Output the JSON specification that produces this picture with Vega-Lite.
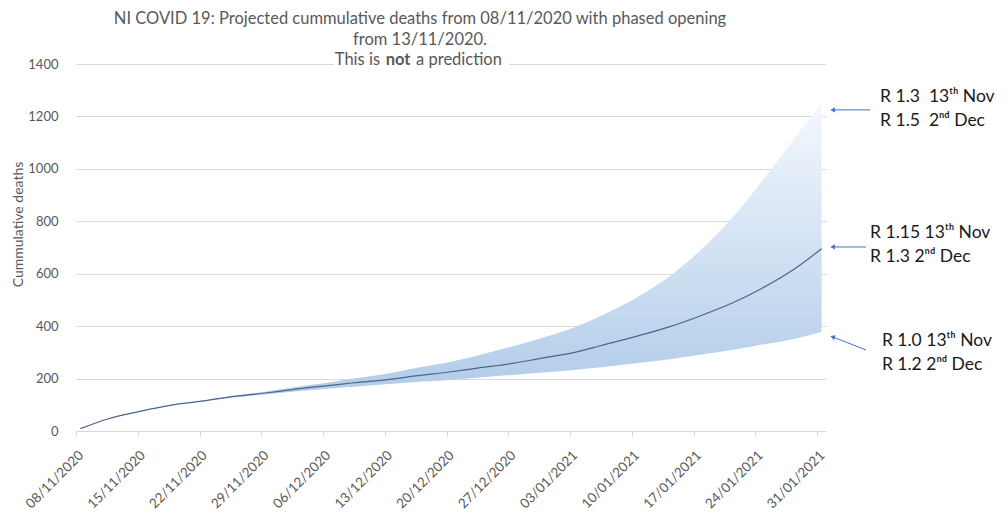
{
  "$schema": "https://vega.github.io/schema/vega-lite/v6.json",
  "width": 750,
  "height": 367,
  "autosize": "none",
  "padding": {"left": 76, "top": 64, "right": 182, "bottom": 82},
  "background": "white",
  "config": {
    "view": {"stroke": null},
    "font": "Lato",
    "axis": {"labelFont": "Lato", "titleFont": "Lato", "labelColor": "#595959", "titleColor": "#595959", "labelFontSize": 13, "titleFontSize": 14, "titleFontWeight": "normal"}
  },
  "title": {
    "text": ["NI COVID 19: Projected cummulative deaths from 08/11/2020 with phased opening", "from 13/11/2020."],
    "anchor": "middle",
    "frame": "group",
    "dx": -31,
    "offset": 3,
    "fontSize": 16.5,
    "font": "Lato",
    "fontWeight": "normal",
    "color": "#595959",
    "lineHeight": 21
  },
  "datasets": {
    "proj": [
      {"date": "2020-11-08T12:00:00", "lo": 9, "mid": 9, "hi": 9},
      {"date": "2020-11-11T12:00:00", "lo": 45, "mid": 45, "hi": 45},
      {"date": "2020-11-15T12:00:00", "lo": 77, "mid": 77, "hi": 77},
      {"date": "2020-11-18T12:00:00", "lo": 97, "mid": 97, "hi": 97},
      {"date": "2020-11-22T12:00:00", "lo": 114, "mid": 115, "hi": 117},
      {"date": "2020-11-25T12:00:00", "lo": 127, "mid": 130, "hi": 133},
      {"date": "2020-11-29T12:00:00", "lo": 140, "mid": 145, "hi": 150},
      {"date": "2020-12-02T12:00:00", "lo": 150, "mid": 158, "hi": 166},
      {"date": "2020-12-06T12:00:00", "lo": 161, "mid": 173, "hi": 184},
      {"date": "2020-12-09T12:00:00", "lo": 169, "mid": 184, "hi": 200},
      {"date": "2020-12-13T12:00:00", "lo": 179, "mid": 197, "hi": 220},
      {"date": "2020-12-16T12:00:00", "lo": 187, "mid": 210, "hi": 240},
      {"date": "2020-12-20T12:00:00", "lo": 195, "mid": 226, "hi": 264},
      {"date": "2020-12-23T12:00:00", "lo": 203, "mid": 240, "hi": 288},
      {"date": "2020-12-27T12:00:00", "lo": 214, "mid": 258, "hi": 323},
      {"date": "2020-12-30T12:00:00", "lo": 222, "mid": 276, "hi": 352},
      {"date": "2021-01-03T12:00:00", "lo": 233, "mid": 300, "hi": 396},
      {"date": "2021-01-06T12:00:00", "lo": 243, "mid": 326, "hi": 440},
      {"date": "2021-01-10T12:00:00", "lo": 258, "mid": 361, "hi": 508},
      {"date": "2021-01-14T12:00:00", "lo": 275, "mid": 400, "hi": 596},
      {"date": "2021-01-17T12:00:00", "lo": 290, "mid": 436, "hi": 681},
      {"date": "2021-01-21T12:00:00", "lo": 310, "mid": 490, "hi": 818},
      {"date": "2021-01-24T12:00:00", "lo": 328, "mid": 540, "hi": 942},
      {"date": "2021-01-28T12:00:00", "lo": 352, "mid": 620, "hi": 1120},
      {"date": "2021-01-31T12:00:00", "lo": 379, "mid": 695, "hi": 1250}
    ]
  },
  "layer": [
    {
      "data": {"name": "proj"},
      "mark": {
        "type": "area",
        "interpolate": "monotone",
        "color": {"gradient": "linear", "x1": 0, "y1": 0, "x2": 0, "y2": 1, "stops": [{"offset": 0, "color": "#f4f8fd"}, {"offset": 1, "color": "#a9c6e7"}]}
      },
      "encoding": {
        "x": {
          "field": "date", "type": "temporal",
          "scale": {"domain": [{"year": 2020, "month": 11, "date": 8}, {"year": 2021, "month": 2, "date": 1}]},
          "axis": {
            "title": null,
            "format": "%d/%m/%Y",
            "labelAngle": -45,
            "labelFontSize": 13.5,
            "values": [
              {"year": 2020, "month": 11, "date": 8}, {"year": 2020, "month": 11, "date": 15}, {"year": 2020, "month": 11, "date": 22}, {"year": 2020, "month": 11, "date": 29},
              {"year": 2020, "month": 12, "date": 6}, {"year": 2020, "month": 12, "date": 13}, {"year": 2020, "month": 12, "date": 20}, {"year": 2020, "month": 12, "date": 27},
              {"year": 2021, "month": 1, "date": 3}, {"year": 2021, "month": 1, "date": 10}, {"year": 2021, "month": 1, "date": 17}, {"year": 2021, "month": 1, "date": 24}, {"year": 2021, "month": 1, "date": 31}
            ],
            "grid": false,
            "domainColor": "#d9d9d9",
            "tickColor": "#d9d9d9",
            "tickSize": 5,
            "labelPadding": 12,
            "labelFlush": false,
            "labelOverlap": false
          }
        },
        "y": {
          "field": "hi", "type": "quantitative",
          "scale": {"domain": [0, 1400], "nice": false},
          "axis": {
            "title": "Cummulative deaths",
            "format": "d",
            "values": [0, 200, 400, 600, 800, 1000, 1200, 1400],
            "grid": true,
            "gridColor": "#d9d9d9",
            "domain": false,
            "ticks": false,
            "labelPadding": 18,
            "titleX": -58,
            "titleY": 160,
            "titleAngle": -90,
            "titleAlign": "center",
            "titleBaseline": "middle"
          }
        },
        "y2": {"field": "lo"}
      }
    },
    {
      "data": {"name": "proj"},
      "mark": {"type": "line", "interpolate": "monotone", "color": "#4a6590", "strokeWidth": 1.2},
      "encoding": {
        "x": {"field": "date", "type": "temporal"},
        "y": {"field": "mid", "type": "quantitative"}
      }
    },
    {
      "data": {"values": [{}]},
      "mark": {"type": "rect", "color": "white"},
      "encoding": {
        "x": {"datum": {"year": 2020, "month": 12, "date": 7, "hours": 6}},
        "x2": {"datum": {"year": 2020, "month": 12, "date": 27, "hours": 2}},
        "y": {"datum": 1385},
        "y2": {"datum": 1425}
      }
    },
    {
      "data": {"values": [{}]},
      "mark": {"type": "text", "align": "right", "baseline": "middle", "dx": -18, "fontSize": 16.5, "font": "Lato", "color": "#595959"},
      "encoding": {
        "x": {"datum": {"year": 2020, "month": 12, "date": 14, "hours": 12}},
        "y": {"datum": 1416},
        "text": {"value": "This is"}
      }
    },
    {
      "data": {"values": [{}]},
      "mark": {"type": "text", "align": "center", "baseline": "middle", "fontSize": 16.5, "font": "Lato", "fontWeight": "bold", "color": "#595959"},
      "encoding": {
        "x": {"datum": {"year": 2020, "month": 12, "date": 14, "hours": 12}},
        "y": {"datum": 1416},
        "text": {"value": "not"}
      }
    },
    {
      "data": {"values": [{}]},
      "mark": {"type": "text", "align": "left", "baseline": "middle", "dx": 18, "fontSize": 16.5, "font": "Lato", "color": "#595959"},
      "encoding": {
        "x": {"datum": {"year": 2020, "month": 12, "date": 14, "hours": 12}},
        "y": {"datum": 1416},
        "text": {"value": "a prediction"}
      }
    },
    {
      "data": {"values": [{}]},
      "mark": {"type": "rule", "color": "#4472c4", "strokeWidth": 1},
      "encoding": {
        "x": {"datum": {"year": 2021, "month": 2, "date": 6}},
        "x2": {"datum": {"year": 2021, "month": 2, "date": 1, "hours": 18}},
        "y": {"datum": 1225},
        "y2": {"datum": 1225}
      }
    },
    {
      "data": {"values": [{}]},
      "mark": {"type": "rule", "color": "#4472c4", "strokeWidth": 1},
      "encoding": {
        "x": {"datum": {"year": 2021, "month": 2, "date": 5, "hours": 13}},
        "x2": {"datum": {"year": 2021, "month": 2, "date": 1, "hours": 18}},
        "y": {"datum": 702},
        "y2": {"datum": 702}
      }
    },
    {
      "data": {"values": [{}]},
      "mark": {"type": "rule", "color": "#4472c4", "strokeWidth": 1},
      "encoding": {
        "x": {"datum": {"year": 2021, "month": 2, "date": 5, "hours": 13}},
        "x2": {"datum": {"year": 2021, "month": 2, "date": 1, "hours": 18}},
        "y": {"datum": 309},
        "y2": {"datum": 359}
      }
    },
    {
      "data": {"values": [{}]},
      "mark": {"type": "point", "shape": "triangle-left", "filled": true, "size": 28, "color": "#4472c4", "opacity": 1},
      "encoding": {
        "x": {"datum": {"year": 2021, "month": 2, "date": 1, "hours": 18}},
        "y": {"datum": 1225}
      }
    },
    {
      "data": {"values": [{}]},
      "mark": {"type": "point", "shape": "triangle-left", "filled": true, "size": 28, "color": "#4472c4", "opacity": 1},
      "encoding": {
        "x": {"datum": {"year": 2021, "month": 2, "date": 1, "hours": 18}},
        "y": {"datum": 702}
      }
    },
    {
      "data": {"values": [{}]},
      "mark": {"type": "point", "shape": "triangle-left", "filled": true, "size": 28, "color": "#4472c4", "opacity": 1, "angle": 20},
      "encoding": {
        "x": {"datum": {"year": 2021, "month": 2, "date": 1, "hours": 18}},
        "y": {"datum": 359}
      }
    },
    {
      "data": {"values": [{}]},
      "mark": {"type": "text", "align": "left", "baseline": "middle", "fontSize": 17.5, "font": "Lato", "color": "#1a1a1a", "lineHeight": 24},
      "encoding": {
        "x": {"datum": {"year": 2021, "month": 2, "date": 7, "hours": 3}},
        "y": {"datum": 1274},
        "text": {"value": ["R 1.3\u00a0\u00a013ᵗʰ Nov", "R 1.5\u00a0\u00a02ⁿᵈ Dec"]}
      }
    },
    {
      "data": {"values": [{}]},
      "mark": {"type": "text", "align": "left", "baseline": "middle", "fontSize": 17.5, "font": "Lato", "color": "#1a1a1a", "lineHeight": 24},
      "encoding": {
        "x": {"datum": {"year": 2021, "month": 2, "date": 6}},
        "y": {"datum": 755},
        "text": {"value": ["R 1.15 13ᵗʰ Nov", "R 1.3 2ⁿᵈ Dec"]}
      }
    },
    {
      "data": {"values": [{}]},
      "mark": {"type": "text", "align": "left", "baseline": "middle", "fontSize": 17.5, "font": "Lato", "color": "#1a1a1a", "lineHeight": 24},
      "encoding": {
        "x": {"datum": {"year": 2021, "month": 2, "date": 7, "hours": 8}},
        "y": {"datum": 343},
        "text": {"value": ["R 1.0 13ᵗʰ Nov", "R 1.2 2ⁿᵈ Dec"]}
      }
    }
  ]
}
